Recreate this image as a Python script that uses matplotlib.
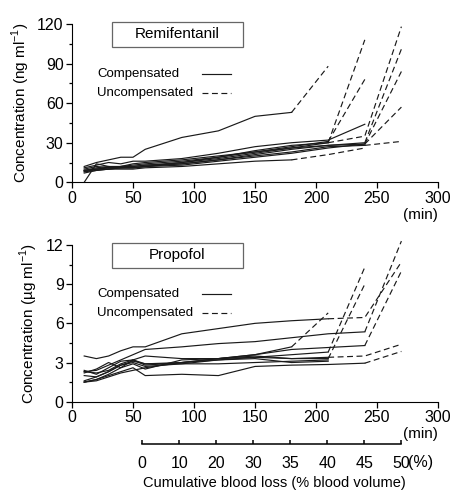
import matplotlib
matplotlib.use("Agg")
import matplotlib.pyplot as plt
from matplotlib.patches import Rectangle
import numpy as np

plt.rcParams['font.family'] = ['Liberation Sans', 'DejaVu Sans']
plt.rcParams['mathtext.fontset'] = 'custom'
plt.rcParams['mathtext.rm'] = 'Liberation Sans'

# sampling times (min)
times = [10, 20, 30, 40, 50, 60, 90, 120, 150, 180, 210, 240, 270]

# remifentanil (ng/ml) per patient, and index of last compensated sample
remi = [
    [12, 15, 17, 19, 19, 25, 34, 39, 50, 53, 88],
    [0, 14, 12, 11, 11, 12, 15, 18, 22, 26, 30, 108],
    [9, 11, 12, 12, 13, 14, 16, 19, 23, 27, 31, 78],
    [11, 13, 15, 14, 16, 16, 18, 22, 27, 30, 32, 44],
    [8, 10, 11, 12, 12, 13, 15, 19, 24, 28, 30, 35, 118],
    [9, 10, 10, 11, 11, 12, 14, 17, 21, 25, 28, 30, 101],
    [10, 12, 11, 12, 14, 15, 17, 20, 23, 26, 28, 29, 84],
    [8, 9, 10, 11, 11, 12, 13, 16, 19, 22, 26, 29, 57],
    [9, 10, 11, 11, 12, 13, 14, 17, 20, 23, 27, 28, 31],
    [7, 9, 10, 10, 10, 11, 12, 14, 16, 17, 21, 26],
]
remi_comp = [9, 10, 10, 11, 10, 11, 11, 11, 11, 9]

# propofol (ug/ml)
prop = [
    [3.5, 3.3, 3.5, 3.9, 4.2, 4.2, 5.2, 5.6, 6.0, 6.2, 6.35, 6.45, 10.7],
    [2.3, 2.4, 2.8, 3.2, 3.6, 4.0, 4.2, 4.45, 4.6, 4.9, 5.2, 5.35, 12.3],
    [1.5, 1.7, 2.1, 2.6, 3.2, 3.5, 3.3, 3.3, 3.6, 4.0, 4.15, 4.3, 10.0],
    [2.4, 2.1, 2.6, 3.1, 3.2, 2.8, 3.0, 3.3, 3.6, 4.2, 6.8],
    [2.2, 2.5, 3.0, 2.6, 2.9, 2.5, 3.2, 3.3, 3.4, 3.6, 3.8, 10.3],
    [1.6, 1.9, 2.3, 2.8, 3.0, 2.7, 2.9, 3.2, 3.4, 3.3, 3.3, 9.0],
    [2.3, 2.2, 2.4, 2.9, 3.2, 2.9, 3.0, 3.3, 3.5, 3.3, 3.4, 3.5, 4.4],
    [1.5, 1.7, 2.0, 2.3, 2.6, 2.0, 2.1, 2.0, 2.7, 2.8, 2.85, 2.95, 3.85],
    [2.0, 1.9, 2.3, 2.8, 3.1, 2.9, 2.9, 2.9, 3.0, 3.1, 3.2],
    [1.5, 1.6, 1.9, 2.2, 2.4, 2.6, 3.0, 3.2, 3.3, 3.0, 3.1],
]
prop_comp = [10, 11, 11, 9, 10, 10, 10, 11, 10, 10]

# blood loss scale under the time axis
loss_pct = [0, 10, 20, 30, 35, 40, 45, 50]
loss_time = np.linspace(57.5, 270, len(loss_pct))

lc = '#1a1a1a'
W, H = 458, 493
fig = plt.figure(figsize=(W / 100, H / 100), dpi=100)


def panel(rect, data, comp, ymax, ystep, ylabel, title):
    ax = fig.add_axes(rect)
    for v, k in zip(data, comp):
        t = times[:len(v)]
        ax.plot(t[:k + 1], v[:k + 1], '-', color=lc, lw=0.85, clip_on=False)
        if len(v) > k + 1:
            ax.plot(t[k:], v[k:], '--', color=lc, lw=0.85, dashes=(5, 3), clip_on=False)
    ax.set_xlim(0, 300)
    ax.set_ylim(0, ymax)
    ax.set_xticks(np.arange(0, 301, 50))
    ax.set_yticks(np.arange(0, ymax + 0.1, ystep))
    ax.set_yticks(np.arange(ystep / 2, ymax, ystep), minor=True)
    for s in ['top', 'right']:
        ax.spines[s].set_visible(False)
    ax.tick_params(labelsize=11.5, length=4, width=0.9, pad=2)
    ax.tick_params(which='minor', length=2.5, width=0.9)
    ax.set_ylabel(ylabel, fontsize=11, labelpad=4)
    ax.text(1.0, -0.16, '(min)', transform=ax.transAxes, fontsize=11,
            ha='right', va='top')
    ax.add_patch(Rectangle((0.109, 0.855), 0.358, 0.16, transform=ax.transAxes,
                           fill=False, ec='#666666', lw=0.9, clip_on=False))
    ax.text(0.288, 0.935, title, transform=ax.transAxes, fontsize=11,
            ha='center', va='center')
    ax.text(0.068, 0.685, 'Compensated', transform=ax.transAxes, fontsize=9.5,
            va='center')
    ax.text(0.068, 0.565, 'Uncompensated', transform=ax.transAxes, fontsize=9.5,
            va='center')
    ax.plot([0.355, 0.435], [0.685, 0.685], '-', color=lc, lw=0.85,
            transform=ax.transAxes)
    ax.plot([0.355, 0.435], [0.565, 0.565], '--', color=lc, lw=0.85,
            dashes=(5, 3), transform=ax.transAxes)
    return ax


panel([72 / W, 1 - 182.3 / H, 366 / W, 158.3 / H], remi, remi_comp, 120, 30,
      'Concentration (ng ml$^{\\mathregular{-1}}$)', 'Remifentanil')
panel([72 / W, 1 - 401.7 / H, 366 / W, 156.7 / H], prop, prop_comp, 12, 3,
      'Concentration (µg ml$^{\\mathregular{-1}}$)', 'Propofol')

# blood loss axis
bx = fig.add_axes([72 / W, 1 - 444 / H, 366 / W, 0.001])
bx.set_xlim(0, 300)
bx.set_ylim(0, 1)
bx.patch.set_visible(False)
for s in ['top', 'right', 'left']:
    bx.spines[s].set_visible(False)
bx.spines['bottom'].set_bounds(loss_time[0], loss_time[-1])
bx.spines['bottom'].set_linewidth(1.1)
bx.set_yticks([])
bx.set_xticks(loss_time)
bx.set_xticklabels([str(p) for p in loss_pct])
bx.tick_params(axis='x', direction='in', length=3, width=1.1, labelsize=11.5, pad=9)
fig.text(403 / W + 0.012, 1 - 463 / H, '(%)', fontsize=11.5, ha='left', va='center')
fig.text(274 / W, 1 - 483 / H, 'Cumulative blood loss (% blood volume)',
         fontsize=10.5, ha='center', va='center')

fig.savefig('out.png', dpi=100)
